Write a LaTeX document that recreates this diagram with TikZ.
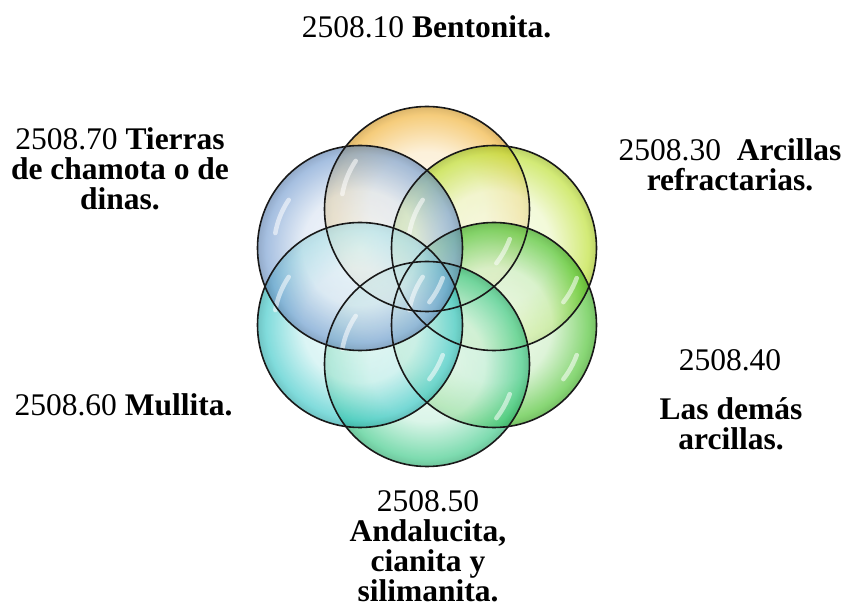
\documentclass[tikz,border=0pt]{standalone}
\usepackage{fontspec}
\setmainfont{Liberation Serif}
\definecolor{bOrange}{HTML}{F0AE2C}
\definecolor{bYellow}{HTML}{B8DE24}
\definecolor{bGreen}{HTML}{40BE22}
\definecolor{bSea}{HTML}{30C680}
\definecolor{bCyan}{HTML}{34C6C6}
\definecolor{bBlue}{HTML}{7099CE}
\colorlet{bubin}{white}
\colorlet{bubmid}{white}
\colorlet{bubout}{black}
\colorlet{bubdark}{black}
\pgfdeclareradialshading[bubin,bubmid,bubout,bubdark]{bubbleshade}{\pgfpoint{0bp}{0bp}}{color(0bp)=(bubin); color(14bp)=(bubmid); color(23bp)=(bubout); color(25bp)=(bubdark); color(50bp)=(bubdark)}
\tikzset{
  bubble/.style={circle, minimum size=205pt, inner sep=0pt,
    /utils/exec={\colorlet{bubin}{#1!8!white}\colorlet{bubmid}{#1!26!white}\colorlet{bubout}{#1!92!white}\colorlet{bubdark}{#1!85!black}},
    shade, shading=bubbleshade, fill opacity=0.68},
  rim/.style={draw=black!90, line width=1.6pt},
  hl/.style={draw=white, line width=4.5pt, line cap=round, draw opacity=0.55},
  lbl/.style={font=\fontsize{31.5}{30}\selectfont, align=center, inner sep=0pt}
}
\begin{document}
\begin{tikzpicture}[x=1pt,y=-1pt]
\useasboundingbox (0,0) rectangle (847,609);
% bubbles
\node[bubble=bOrange] (c1) at (427,209) {};
\node[bubble=bYellow] (c2) at (494,248) {};
\node[bubble=bGreen]  (c3) at (494,325) {};
\node[bubble=bSea]    (c4) at (427,364) {};
\node[bubble=bCyan]   (c5) at (360,325) {};
\node[bubble=bBlue]   (c6) at (360,248) {};
% glossy highlights
\foreach \c in {c1,c2,c3,c4,c5,c6}{
  \draw[hl, shift={(\c)}] (146:86pt) arc[start angle=146, end angle=170, radius=86pt];
  \draw[hl, shift={(\c)}] (-20:88pt) arc[start angle=-20, end angle=-38, radius=88pt];
}
% rims
\foreach \c in {c1,c2,c3,c4,c5,c6}{
  \draw[rim] (\c) circle[radius=102.5pt];
}
% labels
\node[lbl, anchor=base] (t10) at (426.5,38) {2508.10 \textbf{Bentonita.}};
\node[lbl] (t70) at (120,169) {2508.70 \textbf{Tierras}\\\textbf{de chamota o de}\\\textbf{dinas.}};
\node[lbl] (t30) at (730,165) {2508.30~ \textbf{Arcillas}\\\textbf{refractarias.}};
\node[lbl] (t40n) at (730,360) {2508.40};
\node[lbl] (t40) at (731,424) {\textbf{Las demás}\\\textbf{arcillas.}};
\node[lbl] (t60) at (123.5,405) {2508.60 \textbf{Mullita.}};
\node[lbl] (t50) at (428,546) {2508.50\\\textbf{Andalucita,}\\\textbf{cianita y}\\\textbf{silimanita.}};
\end{tikzpicture}
\end{document}
